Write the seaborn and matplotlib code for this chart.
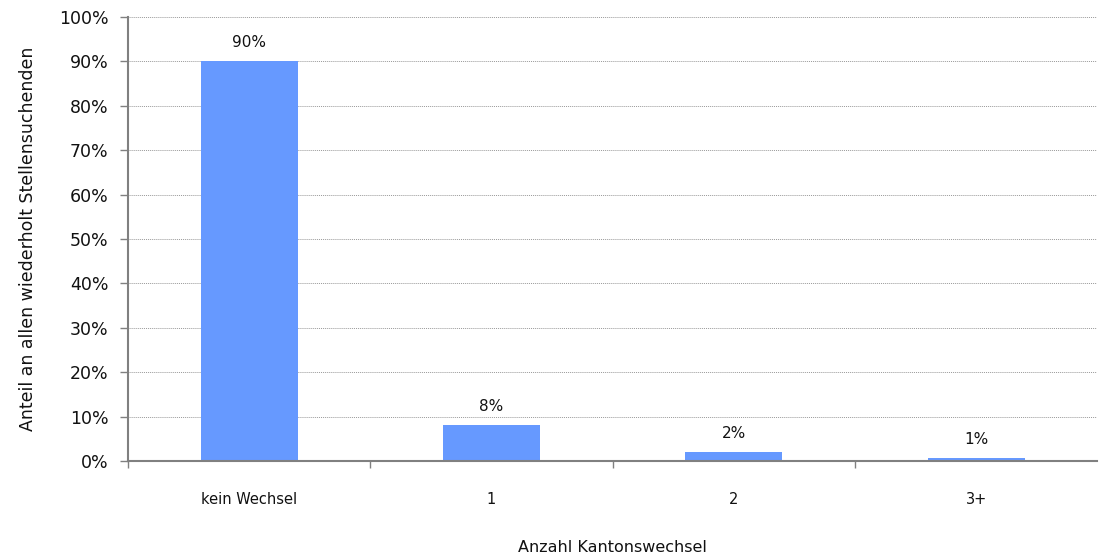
import numpy as np
import pandas as pd
import matplotlib
matplotlib.use("Agg")
import matplotlib.pyplot as plt
import seaborn as sns
from matplotlib.ticker import FixedLocator, PercentFormatter

kategorien = ["kein Wechsel", "1", "2", "3+"]
anteile = [90, 8, 2, 0.6]
beschriftung = ["90%", "8%", "2%", "1%"]

df = pd.DataFrame({"kat": kategorien, "wert": anteile})

sns.set_style("white")
plt.rcParams["font.family"] = ["DejaVu Sans"]

fig = plt.figure(figsize=(10.99, 5.57), dpi=100)
ax = fig.add_axes([0.1165, 0.1724, 0.882, 0.7971])

sns.barplot(data=df, x="kat", y="wert", color="#6699FF", width=0.40,
            saturation=1, linewidth=0, ax=ax)

for i, (v, t) in enumerate(zip(anteile, beschriftung)):
    ax.text(i, v + 4.2, t, ha="center", va="center", fontsize=11, color="#111111")

ax.set_ylim(0, 100)
ax.set_xlim(-0.5, 3.5)
ax.set_yticks(np.arange(0, 101, 10))
ax.yaxis.set_major_formatter(PercentFormatter(decimals=0))
ax.grid(axis="y", color="#999999", linestyle=(0, (1, 1)), linewidth=0.7)
ax.set_axisbelow(True)

for s in ["top", "right"]:
    ax.spines[s].set_visible(False)
for s in ["left", "bottom"]:
    ax.spines[s].set_color("#808080")
    ax.spines[s].set_linewidth(1.5)

ax.tick_params(axis="y", left=True, length=6, color="#808080", width=1,
               labelsize=12.5, labelcolor="#111111", pad=8)
ax.tick_params(axis="x", which="major", bottom=False, length=0, labelsize=10.5,
               labelcolor="#111111", pad=22)
ax.xaxis.set_minor_locator(FixedLocator([-0.5, 0.5, 1.5, 2.5]))
ax.tick_params(axis="x", which="minor", bottom=True, length=5, color="#808080", width=1)

ax.set_xlabel("Anzahl Kantonswechsel", fontsize=11.5, labelpad=24, color="#111111")
ax.set_ylabel("Anteil an allen wiederholt Stellensuchenden", fontsize=12.5,
              labelpad=16, color="#111111")

fig.savefig("out.png", dpi=100)
